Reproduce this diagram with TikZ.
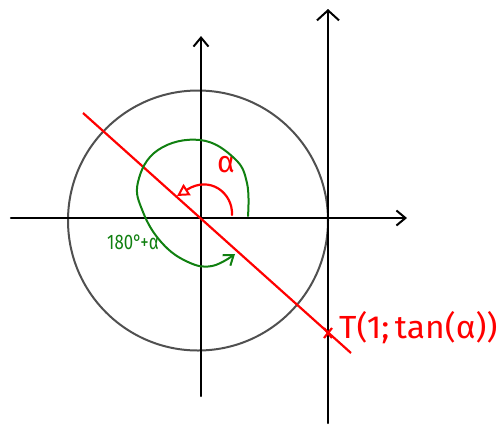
\documentclass[tikz,border=0pt]{standalone}
\usepackage{fontspec}
\setmainfont{Fira Sans}
\usetikzlibrary{arrows.meta,calc}
\definecolor{circgray}{HTML}{505050}
\definecolor{hred}{HTML}{FF0000}
\definecolor{hgreen}{HTML}{108010}
\tikzset{
  axis/.style={line width=2.2pt, black, line cap=round},
  barb/.style={-{Straight Barb[length=9pt,width=15pt,line width=2pt]}},
  redline/.style={line width=2.2pt, hred},
  greenline/.style={line width=2pt, hgreen, line cap=round},
  lbl/.style={inner sep=0pt, anchor=center}
}
\begin{document}
\begin{tikzpicture}[x=1pt,y=-1pt]
\useasboundingbox (0,0) rectangle (501,424);
% circle
\node[draw=circgray, line width=2pt, circle, minimum size=260pt, inner sep=0pt] (circ) at (198,220.5) {};
% axes
\coordinate (xl) at (11,218);
\coordinate (xr) at (407,218);
\coordinate (yb) at (201,396);
\coordinate (yt) at (201,36);
\coordinate (tb) at (328,423);
\coordinate (tt) at (328,9);
\draw[axis, barb] (xl) -- (xr);
\draw[axis, barb] (yb) -- (yt);
\draw[axis, -{Straight Barb[length=10pt,width=22pt,line width=2pt]}] (tb) -- (tt);
% red line
\coordinate (ra) at (83,113);
\coordinate (rb) at (351,353);
\draw[redline] (ra) -- (rb);
% T point
\coordinate (T) at (328,333);
\draw[redline] ($(T)+(-4,-5)$) -- ($(T)+(4,5)$) ;
\draw[redline] ($(T)+(-4,5)$) -- ($(T)+(4,-5)$) ;
\node[lbl, hred, anchor=west, font=\fontsize{32}{34}\selectfont, xscale=1.05] (Tlbl) at (339,328) {T(1;\,tan(α))};
% red alpha arc
\coordinate (ras) at (232,215);
\coordinate (rae) at (177,196);
\draw[redline, line cap=round, -{Triangle[open,length=12pt,width=13pt,line width=2pt]}] (ras) .. controls (233,193) and (210,175) .. (rae);
\node[lbl, hred, font=\fontsize{30}{32}\selectfont] (alpha) at (226,165) {α};
% green arc
\coordinate (gs) at (248,216);
\coordinate (ge) at (235,254);
\draw[greenline, -{Straight Barb[length=9pt,width=13pt,line width=2pt]}] plot[smooth, tension=0.7] coordinates {(gs) (247,183) (234,158) (200,140) (158,150) (138,182) (143,212) (162,243) (188,262) (212,266) (235,254)};
\node[lbl, hgreen, font=\fontsize{21}{22}\selectfont, xscale=0.8] (g180) at (133,242) {180°+α};
\end{tikzpicture}
\end{document}
